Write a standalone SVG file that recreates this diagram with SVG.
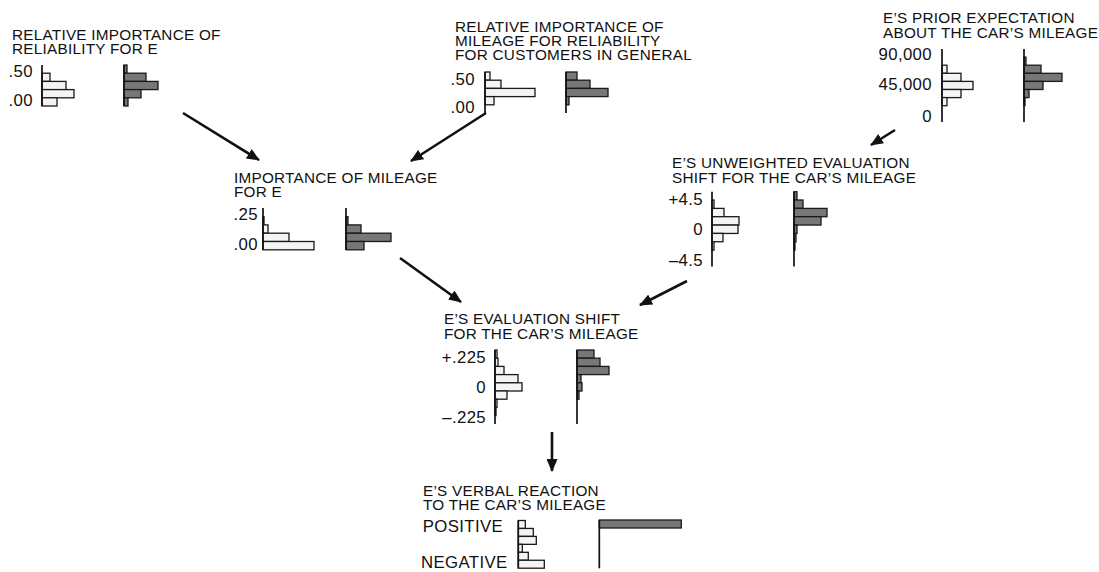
<svg xmlns="http://www.w3.org/2000/svg" width="1099" height="572" viewBox="0 0 1099 572">
  <style>
    text { font-family: "Liberation Sans", Arial, Helvetica, sans-serif; fill: #111; }
    .ttl { font-size: 15.3px; letter-spacing: 0.25px; }
    .tick { font-size: 16.8px; letter-spacing: 0.35px; text-anchor: end; }
    .lb { fill: #f4f4f4; stroke: #1a1a1a; stroke-width: 1.3; }
    .db { fill: #777; stroke: #1a1a1a; stroke-width: 1.3; }
    .ax { stroke: #111; stroke-width: 1.7; fill: none; }
    .arr { stroke: #111; stroke-width: 2.6; fill: none; marker-end: url(#head); }
  </style>
  <defs>
    <marker id="head" markerUnits="userSpaceOnUse" markerWidth="13" markerHeight="11" refX="12" refY="5.5" orient="auto">
      <path d="M0,0 L13,5.5 L0,11 Z" fill="#111"/>
    </marker>
  </defs>
  <rect width="1099" height="572" fill="#fff"/>

  <!-- connectors -->
  <g id="connectors">
    <line class="arr" x1="183" y1="113" x2="259" y2="160"/>
    <line class="arr" x1="486" y1="113" x2="411" y2="161"/>
    <line class="arr" x1="895" y1="130" x2="871" y2="145"/>
    <line class="arr" x1="400" y1="258" x2="461" y2="302"/>
    <line class="arr" x1="687" y1="281" x2="640" y2="305"/>
    <line class="arr" x1="552" y1="432" x2="552" y2="471"/>
  </g>

  <!-- reliability importance for E -->
  <g id="node-reliability-e">
    <text class="ttl" x="12" y="40">RELATIVE IMPORTANCE OF</text>
    <text class="ttl" x="12" y="54">RELIABILITY FOR E</text>
    <text class="tick" x="33" y="77">.50</text>
    <text class="tick" x="33" y="105.5">.00</text>
    <rect class="lb" x="42" y="73.2" width="8" height="8.2"/>
    <rect class="lb" x="42" y="81.4" width="24" height="8.2"/>
    <rect class="lb" x="42" y="89.6" width="32" height="8.2"/>
    <rect class="lb" x="42" y="97.8" width="15" height="8.2"/>
    <line class="ax" x1="42" y1="65" x2="42" y2="106"/>
    <rect class="db" x="124" y="65" width="3" height="8.2"/>
    <rect class="db" x="124" y="73.2" width="22" height="8.2"/>
    <rect class="db" x="124" y="81.4" width="34" height="8.2"/>
    <rect class="db" x="124" y="89.6" width="17" height="8.2"/>
    <rect class="db" x="124" y="97.8" width="4" height="8.2"/>
    <line class="ax" x1="124" y1="65" x2="124" y2="106"/>
  </g>

  <!-- mileage importance for customers in general -->
  <g id="node-mileage-general">
    <text class="ttl" x="455" y="31.7">RELATIVE IMPORTANCE OF</text>
    <text class="ttl" x="455" y="45.7">MILEAGE FOR RELIABILITY</text>
    <text class="ttl" x="455" y="60">FOR CUSTOMERS IN GENERAL</text>
    <text class="tick" x="475" y="85">.50</text>
    <text class="tick" x="475" y="113">.00</text>
    <rect class="lb" x="485" y="72" width="5" height="8.2"/>
    <rect class="lb" x="485" y="80.2" width="16" height="8.2"/>
    <rect class="lb" x="485" y="88.4" width="50" height="8.2"/>
    <rect class="lb" x="485" y="96.6" width="9" height="8.2"/>
    <line class="ax" x1="485" y1="72" x2="485" y2="113"/>
    <rect class="db" x="566" y="72" width="11" height="8.2"/>
    <rect class="db" x="566" y="80.2" width="24" height="8.2"/>
    <rect class="db" x="566" y="88.4" width="42" height="8.2"/>
    <rect class="db" x="566" y="96.6" width="3" height="8.2"/>
    <line class="ax" x1="566" y1="72" x2="566" y2="113"/>
  </g>

  <!-- prior expectation about mileage -->
  <g id="node-prior-expectation">
    <text class="ttl" x="883" y="23.3">E’S PRIOR EXPECTATION</text>
    <text class="ttl" x="883" y="38.3">ABOUT THE CAR’S MILEAGE</text>
    <text class="tick" x="932" y="60">90,000</text>
    <text class="tick" x="932" y="90">45,000</text>
    <text class="tick" x="932" y="121.5">0</text>
    <rect class="lb" x="942" y="65.2" width="5" height="8.1"/>
    <rect class="lb" x="942" y="73.3" width="19" height="8.1"/>
    <rect class="lb" x="942" y="81.4" width="31" height="8.1"/>
    <rect class="lb" x="942" y="89.5" width="19" height="8.1"/>
    <rect class="lb" x="942" y="97.6" width="5" height="8.1"/>
    <line class="ax" x1="942" y1="49" x2="942" y2="122"/>
    <rect class="db" x="1024" y="57.1" width="2" height="8.1"/>
    <rect class="db" x="1024" y="65.2" width="17" height="8.1"/>
    <rect class="db" x="1024" y="73.3" width="38" height="8.1"/>
    <rect class="db" x="1024" y="81.4" width="19" height="8.1"/>
    <rect class="db" x="1024" y="89.5" width="5" height="8.1"/>
    <rect class="db" x="1024" y="97.6" width="1" height="8.1"/>
    <line class="ax" x1="1024" y1="49" x2="1024" y2="122"/>
  </g>

  <!-- importance of mileage for E -->
  <g id="node-mileage-importance">
    <text class="ttl" x="234" y="183.3">IMPORTANCE OF MILEAGE</text>
    <text class="ttl" x="234" y="197.3">FOR E</text>
    <text class="tick" x="258" y="220">.25</text>
    <text class="tick" x="258" y="250">.00</text>
    <rect class="lb" x="263" y="216.6" width="1" height="8.3"/>
    <rect class="lb" x="263" y="224.9" width="5" height="8.3"/>
    <rect class="lb" x="263" y="233.2" width="26" height="8.3"/>
    <rect class="lb" x="263" y="241.5" width="51" height="8.3"/>
    <line class="ax" x1="263" y1="208" x2="263" y2="250"/>
    <rect class="db" x="346" y="216.6" width="2" height="8.3"/>
    <rect class="db" x="346" y="224.9" width="15" height="8.3"/>
    <rect class="db" x="346" y="233.2" width="45" height="8.3"/>
    <rect class="db" x="346" y="241.5" width="18" height="8.3"/>
    <line class="ax" x1="346" y1="208" x2="346" y2="250"/>
  </g>

  <!-- unweighted evaluation shift -->
  <g id="node-unweighted-shift">
    <text class="ttl" x="672" y="168.3">E’S UNWEIGHTED EVALUATION</text>
    <text class="ttl" x="672" y="183.3">SHIFT FOR THE CAR’S MILEAGE</text>
    <text class="tick" x="703" y="205">+4.5</text>
    <text class="tick" x="703" y="235">0</text>
    <text class="tick" x="703" y="265.7">–4.5</text>
    <rect class="lb" x="712" y="200" width="2" height="8.35"/>
    <rect class="lb" x="712" y="208.4" width="12" height="8.35"/>
    <rect class="lb" x="712" y="216.7" width="27" height="8.35"/>
    <rect class="lb" x="712" y="225.1" width="26" height="8.35"/>
    <rect class="lb" x="712" y="233.4" width="11" height="8.35"/>
    <rect class="lb" x="712" y="241.8" width="2" height="8.35"/>
    <line class="ax" x1="712" y1="191.7" x2="712" y2="266.5"/>
    <rect class="db" x="794" y="191.7" width="3" height="8.35"/>
    <rect class="db" x="794" y="200" width="9" height="8.35"/>
    <rect class="db" x="794" y="208.4" width="33" height="8.35"/>
    <rect class="db" x="794" y="216.7" width="27" height="8.35"/>
    <rect class="db" x="794" y="225.1" width="3" height="8.35"/>
    <rect class="db" x="794" y="233.4" width="2" height="8.35"/>
    <rect class="db" x="794" y="241.8" width="1" height="8.35"/>
    <line class="ax" x1="794" y1="191.7" x2="794" y2="266.5"/>
  </g>

  <!-- weighted evaluation shift -->
  <g id="node-evaluation-shift">
    <text class="ttl" x="444" y="324">E’S EVALUATION SHIFT</text>
    <text class="ttl" x="444" y="339.3">FOR THE CAR’S MILEAGE</text>
    <text class="tick" x="486" y="362.7">+.225</text>
    <text class="tick" x="486" y="392.7">0</text>
    <text class="tick" x="486" y="423.3">–.225</text>
    <rect class="lb" x="495" y="350" width="2" height="8.2"/>
    <rect class="lb" x="495" y="358.2" width="3" height="8.2"/>
    <rect class="lb" x="495" y="366.4" width="9" height="8.2"/>
    <rect class="lb" x="495" y="374.6" width="23" height="8.2"/>
    <rect class="lb" x="495" y="382.8" width="27" height="8.2"/>
    <rect class="lb" x="495" y="391" width="12" height="8.2"/>
    <rect class="lb" x="495" y="399.2" width="2" height="8.2"/>
    <rect class="lb" x="495" y="407.4" width="1" height="8.2"/>
    <line class="ax" x1="495" y1="350" x2="495" y2="424"/>
    <rect class="db" x="577" y="350" width="17" height="8.2"/>
    <rect class="db" x="577" y="358.2" width="23" height="8.2"/>
    <rect class="db" x="577" y="366.4" width="32" height="8.2"/>
    <rect class="db" x="577" y="374.6" width="4" height="8.2"/>
    <rect class="db" x="577" y="382.8" width="5" height="8.2"/>
    <rect class="db" x="577" y="391" width="2" height="8.2"/>
    <line class="ax" x1="577" y1="350" x2="577" y2="424"/>
  </g>

  <!-- verbal reaction -->
  <g id="node-verbal-reaction">
    <text class="ttl" x="423" y="495.7">E’S VERBAL REACTION</text>
    <text class="ttl" x="423" y="510">TO THE CAR’S MILEAGE</text>
    <text class="tick" x="503" y="532.3">POSITIVE</text>
    <text class="tick" x="507.5" y="568">NEGATIVE</text>
    <rect class="lb" x="518.3" y="520.5" width="7" height="7.95"/>
    <rect class="lb" x="518.3" y="528.45" width="15" height="7.95"/>
    <rect class="lb" x="518.3" y="536.4" width="18" height="7.95"/>
    <rect class="lb" x="518.3" y="544.35" width="4" height="7.95"/>
    <rect class="lb" x="518.3" y="552.3" width="10" height="7.95"/>
    <rect class="lb" x="518.3" y="560.25" width="26" height="7.95"/>
    <line class="ax" x1="518.3" y1="520.5" x2="518.3" y2="568.2"/>
    <rect class="db" x="599.3" y="520" width="82" height="8"/>
    <line class="ax" x1="599.3" y1="520" x2="599.3" y2="568.3"/>
  </g>
</svg>
